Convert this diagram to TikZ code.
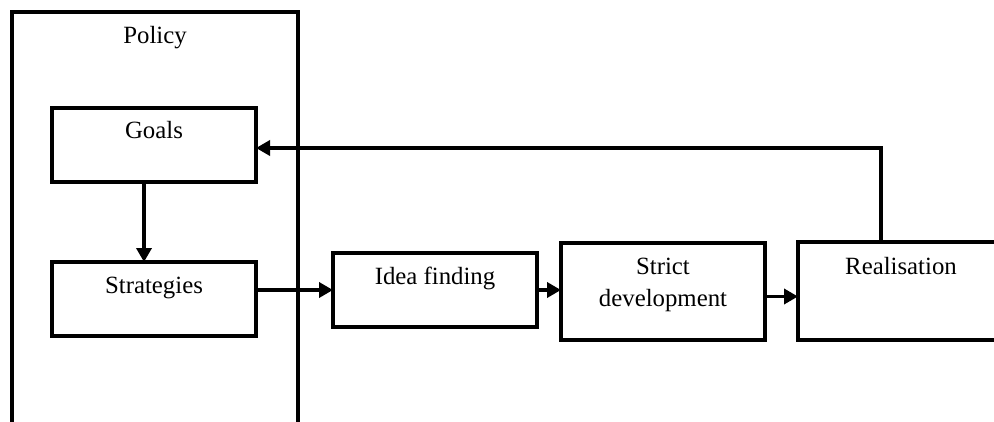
\documentclass[tikz,border=0pt]{standalone}
\usepackage{fontspec}
\setmainfont{Liberation Serif}
\usetikzlibrary{arrows.meta, positioning}
\tikzstyle{frame} = [
    rectangle,
    minimum width=143pt,
    minimum height=211.5pt,
    inner sep=0pt,
    outer sep=0pt,
    line width=2pt,
    draw=black
]
\tikzstyle{stage} = [
    rectangle,
    minimum width=102pt,
    minimum height=37pt,
    inner sep=0pt,
    outer sep=0pt,
    line width=2pt,
    draw=black
]
\tikzstyle{caption} = [
    anchor=base,
    align=center,
    inner sep=0pt,
    font=\fontsize{12.4}{16}\selectfont
]
\tikzstyle{arrow} = [line width=1.8pt,-{Triangle[length=7pt,width=7.5pt]}]

\begin{document}
\begin{tikzpicture}[x=0.5pt, y=-0.5pt]
\useasboundingbox (0,0) rectangle (994,422);

\node (policy) [frame] at (155,223.5) {};

\node (goals) [stage] at (154,145) {};

\node (strategies) [stage, below=40pt of goals] {};

\node (idea) [stage] at (435,290) {};

\node (strict) [stage, minimum height=48.5pt] at (663,291.5) {};

\node (realisation) [stage, minimum width=103pt, minimum height=49pt] at (901,291) {};

\node (policytext) [caption] at ([yshift=-16pt]policy.north) {Policy};
\node (goalstext) [caption] at ([yshift=-15.5pt]goals.north) {Goals};
\node (strategiestext) [caption] at ([yshift=-15.5pt]strategies.north) {Strategies};
\node (ideatext) [caption] at ([yshift=-15.5pt]idea.north) {Idea finding};
\node (stricttext) [caption] at ([yshift=-31.5pt]strict.north) {Strict\\development};
\node (realisationtext) [caption] at ([yshift=-16pt]realisation.north) {Realisation};

\draw [arrow] ([xshift=-5pt]goals.south) -- ([xshift=-5pt]goals.south |- strategies.north);
\draw [arrow] (strategies.east |- idea.west) -- (idea.west);
\draw [arrow] (idea.east) -- (idea.east -| strict.west);
\draw [arrow] ([yshift=-2.5pt]strict.east) -- ([yshift=-2.5pt]strict.east -| realisation.west);
\draw [arrow] ([xshift=-10pt]realisation.north) |- ([yshift=-1.5pt]goals.east);

\end{tikzpicture}
\end{document}
